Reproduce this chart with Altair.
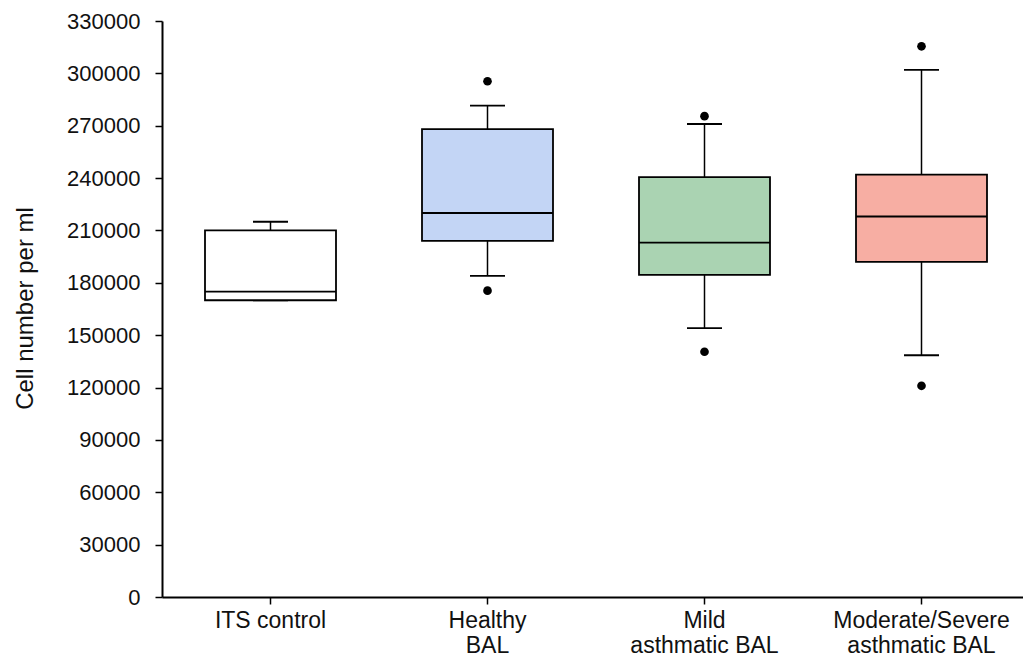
import altair as alt
import pandas as pd

categories = ["ITS control", "Healthy\nBAL", "Mild\nasthmatic BAL", "Moderate/Severe\nasthmatic BAL"]
q1 = [170000, 204000, 184500, 192000]
median = [175000, 220000, 203000, 218000]
q3 = [210000, 268000, 240500, 242000]
whisker_low = [170000, 184000, 154000, 138500]
whisker_high = [215000, 281500, 271000, 302000]
fills = ["#ffffff", "#c3d5f5", "#aad3b2", "#f7aea3"]

outlier_cats = ["Healthy\nBAL", "Healthy\nBAL", "Mild\nasthmatic BAL", "Mild\nasthmatic BAL",
                "Moderate/Severe\nasthmatic BAL", "Moderate/Severe\nasthmatic BAL"]
outlier_vals = [295500, 175500, 275500, 140500, 315500, 121000]

y_ticks = list(range(0, 330001, 30000))

stats = pd.DataFrame({
    "cat": categories, "q1": q1, "med": median, "q3": q3,
    "lo": whisker_low, "hi": whisker_high, "fill": fills,
})
outl = pd.DataFrame({"cat": outlier_cats, "val": outlier_vals})

FONT = "Liberation Sans"

x_enc = alt.X(
    "cat:N", sort=categories, title=None,
    scale=alt.Scale(domain=categories, range=[0, 868], paddingInner=0, paddingOuter=0),
    axis=alt.Axis(
        labelAngle=0, labelExpr="split(datum.value, '\\n')", labelFontSize=23,
        labelLineHeight=25, labelColor="#111", labelFont=FONT, labelPadding=5,
        tickSize=7, tickColor="black", tickWidth=1.5, domainColor="black", domainWidth=2,
        labelBaseline="top",
    ),
)

y_scale = alt.Scale(domain=[0, 330000], nice=False, zero=True)
y_axis = alt.Axis(
    values=y_ticks, format="d", labelFontSize=22, labelFont=FONT, labelColor="#111",
    labelPadding=15, tickSize=7, tickColor="black", tickWidth=1.5,
    domainColor="black", domainWidth=2, grid=False,
    title="Cell number per ml", titleFont=FONT, titleFontSize=24, titleFontWeight="normal",
    titleColor="#111", titleX=-137, titleY=287, titleAlign="center", titleBaseline="middle",
    titleAngle=-90,
)

base = alt.Chart(stats)

whiskers = base.mark_rule(color="black", strokeWidth=1.5).encode(
    x=x_enc, y=alt.Y("lo:Q", scale=y_scale, axis=y_axis), y2="hi:Q"
)
cap_hi = base.mark_tick(color="black", size=35, thickness=1.8, orient="horizontal", opacity=1).encode(
    x=x_enc, y=alt.Y("hi:Q", scale=y_scale)
)
cap_lo = base.mark_tick(color="black", size=35, thickness=1.8, orient="horizontal", opacity=1).encode(
    x=x_enc, y=alt.Y("lo:Q", scale=y_scale)
)
boxes = base.mark_bar(size=131, stroke="black", strokeWidth=1.8).encode(
    x=x_enc, y=alt.Y("q1:Q", scale=y_scale), y2="q3:Q",
    fill=alt.Fill("fill:N", scale=None, legend=None),
)
meds = base.mark_tick(color="black", size=131, thickness=1.8, orient="horizontal", opacity=1).encode(
    x=x_enc, y=alt.Y("med:Q", scale=y_scale)
)
dots = alt.Chart(outl).mark_circle(color="black", size=75, opacity=1).encode(
    x=x_enc, y=alt.Y("val:Q", scale=y_scale)
)

chart = alt.layer(whiskers, cap_hi, cap_lo, boxes, meds, dots).properties(
    width=861, height=576,
    autosize=alt.AutoSizeParams(type="none"),
    padding={"left": 162, "top": 21, "right": 0, "bottom": 60},
    background="white",
).configure_view(stroke=None)

chart.save("out.html", embed_options={"renderer": "svg", "actions": False})
